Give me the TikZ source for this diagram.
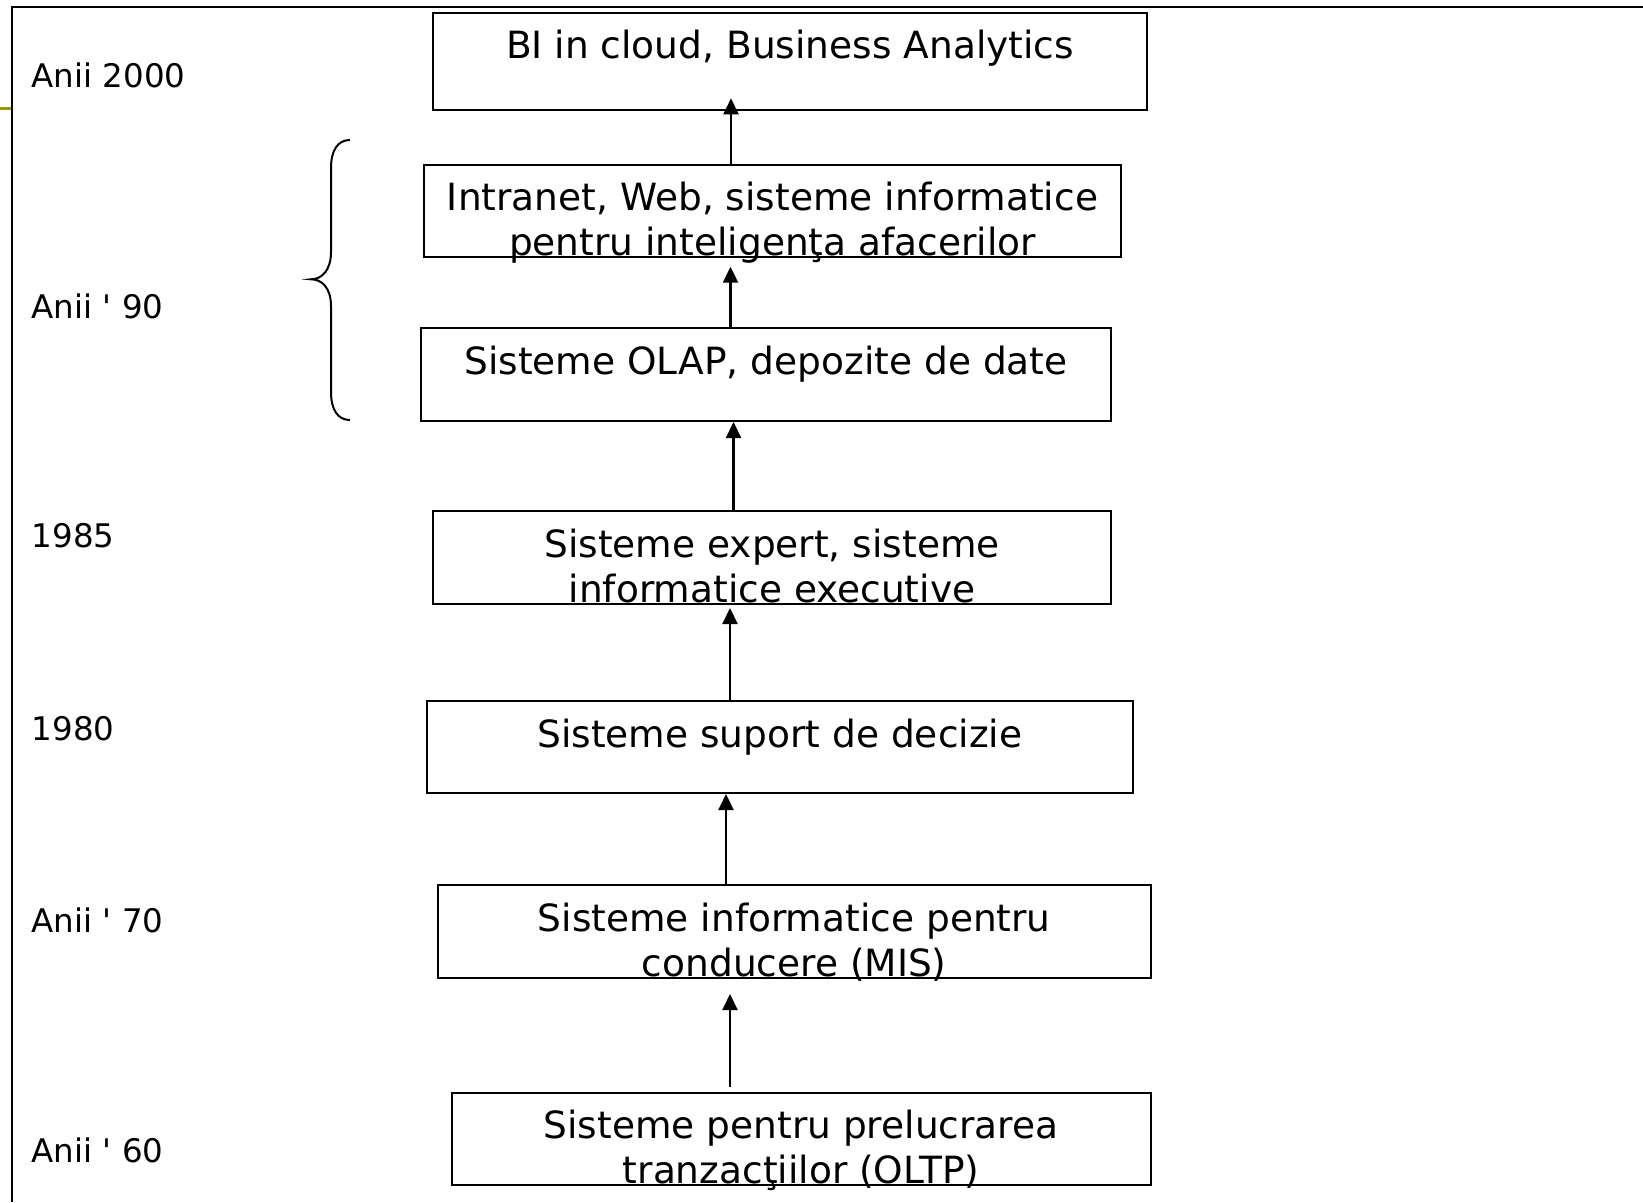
\documentclass[tikz,border=0pt]{standalone}
\usepackage{fontspec}
\newfontfamily\dv[Ligatures=TeXOff]{DejaVu Sans}
\usetikzlibrary{arrows.meta}
\definecolor{olivebar}{RGB}{153,153,0}
\begin{document}
\begin{tikzpicture}[x=1pt,y=-1pt,
  box/.style={draw, line width=2pt, inner sep=0pt},
  btxt/.style={font=\dv\fontsize{37.5}{45}\selectfont, align=center, inner sep=0pt, anchor=north},
  lab/.style={font=\dv\fontsize{32.5}{39}\selectfont, inner sep=0pt, anchor=base west},
  arr/.style={line width=2.2pt, -{Triangle[length=16pt,width=15pt]}},
  frame/.style={line width=2.2pt},
  bracestyle/.style={line width=2pt}
  ]
\useasboundingbox (0,0) rectangle (1643,1202);
% frame and olive mark
\draw[frame] (11.7,1202) -- (11.7,6.7) -- (1643,6.7);
\draw[line width=3pt, olivebar] (0,108.7) -- (10.6,108.7);

% boxes
\node[box, minimum width=714pt, minimum height=96.8pt] (b1) at (790,61.1) {};
\node[box, minimum width=697pt, minimum height=92.2pt] (b2) at (772.5,210.6) {};
\node[box, minimum width=690pt, minimum height=93pt] (b3) at (766,374.5) {};
\node[box, minimum width=678pt, minimum height=92.5pt] (b4) at (772,557.25) {};
\node[box, minimum width=706.5pt, minimum height=92pt] (b5) at (779.75,747) {};
\node[box, minimum width=712.5pt, minimum height=92.6pt] (b6) at (794.25,931.3) {};
\node[box, minimum width=698.8pt, minimum height=92.6pt] (b7) at (801.1,1139) {};

% box texts
\node[btxt] (t1) at ([yshift=-18.5pt]b1.north) {BI in cloud, Business Analytics};
\node[btxt] (t2) at ([yshift=-18.5pt]b2.north) {Intranet, Web, sisteme informatice\\pentru inteligenţa afacerilor};
\node[btxt] (t3) at ([yshift=-18.5pt]b3.north) {Sisteme OLAP, depozite de date};
\node[btxt] (t4) at ([yshift=-18.5pt]b4.north) {Sisteme expert, sisteme\\informatice executive};
\node[btxt] (t5) at ([yshift=-18.5pt]b5.north) {Sisteme suport de decizie};
\node[btxt] (t6) at ([yshift=-18.5pt]b6.north) {Sisteme informatice pentru\\conducere (MIS)};
\node[btxt] (t7) at ([yshift=-18.5pt]b7.north) {Sisteme pentru prelucrarea\\tranzacţiilor (OLTP)};

% arrows
\coordinate (e1) at (731,98.3);
\draw[arr] (b2.north -| e1) -- (e1);
\coordinate (e2) at (730.5,266.7);
\draw[arr] (b3.north -| e2) -- (e2);
\coordinate (e3) at (733.5,0);
\draw[arr] (b4.north -| e3) -- (b3.south -| e3);
\coordinate (e4) at (730,608);
\draw[arr] (b5.north -| e4) -- (e4);
\coordinate (e5) at (726,0);
\draw[arr] (b6.north -| e5) -- (b5.south -| e5);
\coordinate (s6) at (730,1086.7);
\coordinate (e6) at (730,994);
\draw[arr] (s6) -- (e6);

% brace
\draw[bracestyle] (350,140) .. controls (338,140) and (331,150) .. (331,168) -- (331,252)
  .. controls (331,270) and (322,279.3) .. (311,279.3)
  .. controls (322,279.3) and (331,288) .. (331,306) -- (331,392)
  .. controls (331,410) and (338,420) .. (350,420);

% year labels
\node[lab] (l1) at (31.5,87.3) {Anii 2000};
\node[lab] (l2) at (31.5,318) {Anii ' 90};
\node[lab] (l3) at (31.5,547) {1985};
\node[lab] (l4) at (31.5,740) {1980};
\node[lab] (l5) at (31.5,932) {Anii ' 70};
\node[lab] (l6) at (31.5,1162.3) {Anii ' 60};
\end{tikzpicture}
\end{document}
